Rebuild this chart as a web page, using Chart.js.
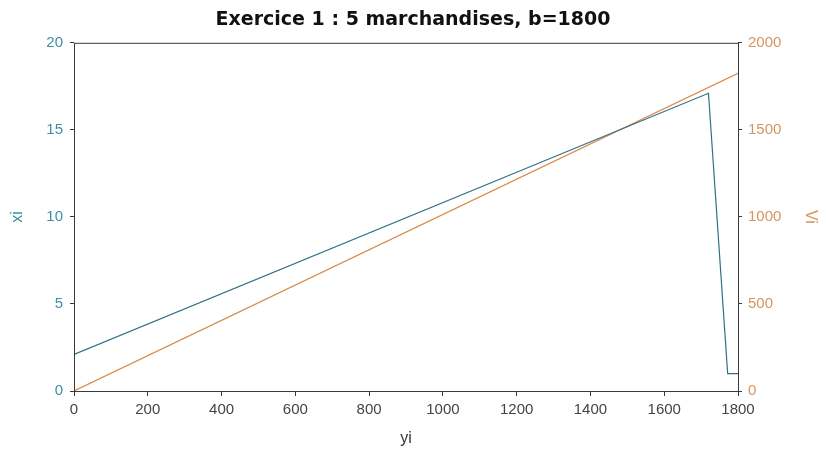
<!DOCTYPE html>
<html>
<head>
<meta charset="utf-8">
<script src="https://cdn.jsdelivr.net/npm/chart.js@4/dist/chart.umd.min.js"></script>
<style>
  html, body { margin: 0; padding: 0; background: #ffffff; }
  #wrap { width: 826px; height: 457px; }
</style>
</head>
<body>
<div id="wrap"><canvas id="chart" width="826" height="457"></canvas></div>
<script>
// data
const yiXi = [0, 1720, 1772, 1800];     // yi where xi changes slope
const xiValues = [2.1, 17.1, 1, 1];     // left axis (xi)
const yiVi = [0, 1800];
const viValues = [0, 1825];             // right axis (Vi)

const xTicks = [0, 200, 400, 600, 800, 1000, 1200, 1400, 1600, 1800];
const leftTicks = [0, 5, 10, 15, 20];
const rightTicks = [0, 500, 1000, 1500, 2000];

const blueLine = '#2f6f86';
const orangeLine = '#d98a48';

const toPoints = (xs, ys) => xs.map((x, i) => ({ x: x, y: ys[i] }));

// frame around the plot area, like the original axes box
const boxPlugin = {
    id: 'box',
    afterDatasetsDraw(chart) {
        const a = chart.chartArea;
        const ctx = chart.ctx;
        ctx.save();
        ctx.strokeStyle = '#3a3a3a';
        ctx.lineWidth = 1;
        ctx.strokeRect(a.left + 0.5, a.top + 0.5, a.right - a.left, a.bottom - a.top);
        ctx.restore();
    }
};

const tickFont = { family: 'Liberation Sans, Arial, sans-serif', size: 15 };
const plain = (v) => String(v);

new Chart(document.getElementById('chart'), {
    type: 'scatter',
    data: {
        datasets: [{
            label: 'xi',
            data: toPoints(yiXi, xiValues),
            yAxisID: 'y',
            showLine: true,
            borderColor: blueLine,
            borderWidth: 1.2,
            pointRadius: 0,
            tension: 0
        }, {
            label: 'Vi',
            data: toPoints(yiVi, viValues),
            yAxisID: 'y1',
            showLine: true,
            borderColor: orangeLine,
            borderWidth: 1.2,
            pointRadius: 0,
            tension: 0
        }]
    },
    options: {
        responsive: false,
        animation: false,
        layout: { padding: 0 },
        plugins: {
            legend: { display: false },
            tooltip: { enabled: false },
            title: {
                display: true,
                text: 'Exercice 1 : 5 marchandises, b=1800',
                color: '#111',
                font: { family: 'DejaVu Sans, sans-serif', size: 19, weight: 'bold' },
                padding: { top: 9, bottom: 11 }
            }
        },
        scales: {
            x: {
                type: 'linear',
                min: 0,
                max: 1800,
                afterBuildTicks: (scale) => { scale.ticks = xTicks.map(v => ({ value: v })); },
                afterFit: (scale) => { scale.height = 66; },
                grid: { drawOnChartArea: false, drawTicks: true, tickLength: 5, color: '#3a3a3a' },
                border: { display: false },
                ticks: { color: '#444', font: tickFont, padding: 5, maxRotation: 0, callback: plain },
                title: {
                    display: true, text: 'yi', color: '#333',
                    font: { family: 'Liberation Sans, Arial, sans-serif', size: 16 },
                    padding: { top: 2, bottom: 9 }
                }
            },
            y: {
                type: 'linear',
                position: 'left',
                min: 0,
                max: 20,
                afterBuildTicks: (scale) => { scale.ticks = leftTicks.map(v => ({ value: v })); },
                afterFit: (scale) => { scale.width = 74; },
                grid: { drawOnChartArea: false, drawTicks: true, tickLength: 4, color: '#3a3a3a' },
                border: { display: false },
                ticks: { color: '#3f8ea3', font: tickFont, padding: 7, callback: plain },
                title: {
                    display: true, text: 'xi', color: '#3f8ea3',
                    font: { family: 'Liberation Sans, Arial, sans-serif', size: 16 },
                    padding: { top: 8, bottom: 0 }
                }
            },
            y1: {
                type: 'linear',
                position: 'right',
                min: 0,
                max: 2000,
                afterBuildTicks: (scale) => { scale.ticks = rightTicks.map(v => ({ value: v })); },
                afterFit: (scale) => { scale.width = 88; },
                grid: { drawOnChartArea: false, drawTicks: true, tickLength: 4, color: '#3a3a3a' },
                border: { display: false },
                ticks: { color: '#d5955e', font: tickFont, padding: 6, callback: plain },
                title: {
                    display: true, text: 'Vi', color: '#d5955e',
                    font: { family: 'Liberation Sans, Arial, sans-serif', size: 16 },
                    padding: { top: 6, bottom: 0 }
                }
            }
        }
    },
    plugins: [boxPlugin]
});
</script>
</body>
</html>
